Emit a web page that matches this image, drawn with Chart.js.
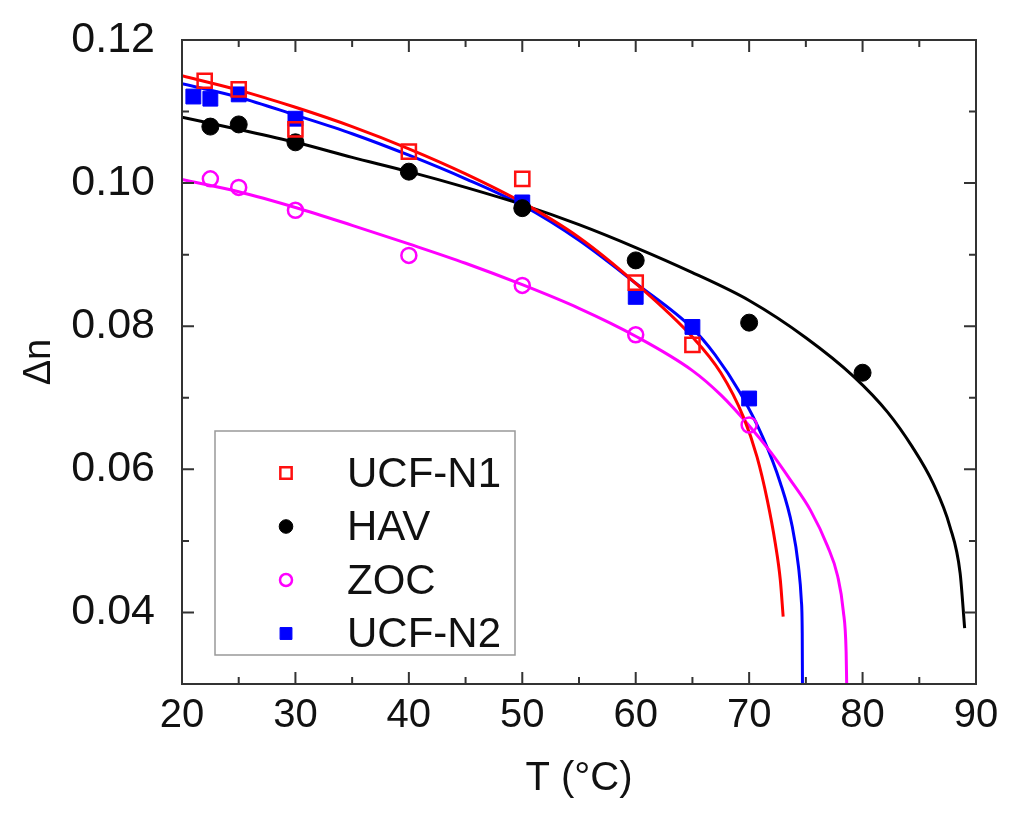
<!DOCTYPE html>
<html>
<head>
    <title>Birefringence vs temperature</title>
    <script src="https://cdn.jsdelivr.net/npm/chart.js"></script>
    <style>
        body { margin: 0; background: #fff; }
        #wrap { width: 1024px; height: 829px; }
    </style>
</head>
<body>
    <div id="wrap"><canvas id="dnChart" width="1024" height="829"></canvas></div>
    <script>
        // measured points
        const ucfN1T = [22, 25, 30, 40, 50, 60, 65];
        const ucfN1Dn = [0.1143, 0.1131, 0.1075, 0.1044, 0.1006, 0.0861, 0.0774];
        const havT = [22.5, 25, 30, 40, 50, 60, 70, 80];
        const havDn = [0.1079, 0.1082, 0.1057, 0.1016, 0.0965, 0.0892, 0.0805, 0.0735];
        const zocT = [22.5, 25, 30, 40, 50, 60, 70];
        const zocDn = [0.1006, 0.0994, 0.0962, 0.0899, 0.0857, 0.0788, 0.0662];
        const ucfN2T = [21, 22.5, 25, 30, 50, 60, 65, 70];
        const ucfN2Dn = [0.1121, 0.1118, 0.1124, 0.1090, 0.0973, 0.0841, 0.0799, 0.0699];

        // fitted curves
        const fitN1T = [20, 25, 30, 35, 40, 45, 50, 55, 60, 65, 67.5, 69.5, 70.7, 71.6, 72.3, 72.75, 73.0];
        const fitN1Dn = [0.1150, 0.1130, 0.1106, 0.1079, 0.1048, 0.1013, 0.0973, 0.0924, 0.0860, 0.0785, 0.0735, 0.0673, 0.0617, 0.0557, 0.0497, 0.0445, 0.0394];
        const fitHavT = [20, 25, 30, 35, 40, 45, 50, 55, 60, 65, 70, 75, 79.2, 82.2, 84.4, 86.2, 87.7, 88.6, 89.0];
        const fitHavDn = [0.1092, 0.1075, 0.1057, 0.1036, 0.1016, 0.0994, 0.0970, 0.0942, 0.0910, 0.0875, 0.0836, 0.0784, 0.0730, 0.0680, 0.0631, 0.0581, 0.0520, 0.0455, 0.0378];
        const fitZocT = [20, 25, 30, 35, 40, 45, 50, 55, 60, 65, 67.5, 70, 71.9, 73.6, 75.4, 76.9, 77.8, 78.3, 78.55, 78.6];
        const fitZocDn = [0.1005, 0.0988, 0.0966, 0.0941, 0.0915, 0.0888, 0.0858, 0.0825, 0.0786, 0.0738, 0.0704, 0.0661, 0.0624, 0.0586, 0.0543, 0.0493, 0.0451, 0.0402, 0.0345, 0.0300];
        const fitN2T = [20, 25, 30, 35, 40, 45, 50, 55, 60, 65, 67, 69.2, 71.2, 72.75, 73.8, 74.35, 74.6, 74.68, 74.7];
        const fitN2Dn = [0.1139, 0.1120, 0.1095, 0.1069, 0.1039, 0.1006, 0.0969, 0.0920, 0.0860, 0.0797, 0.0760, 0.0707, 0.0645, 0.0581, 0.0520, 0.0464, 0.0417, 0.0371, 0.0300];

        const xTicks = [20, 30, 40, 50, 60, 70, 80, 90];
        const xMinor = [25, 35, 45, 55, 65, 75, 85];
        const yTicks = [0.04, 0.06, 0.08, 0.10, 0.12];
        const yMinor = [0.05, 0.07, 0.09, 0.11];

        const pts = (xs, ys) => xs.map((x, i) => ({ x: x, y: ys[i] }));
        const font = '"Liberation Sans", Arial, sans-serif';

        function markers(label, xs, ys, style, color, filled, r) {
            return {
                label: label, data: pts(xs, ys), showLine: false, order: 0,
                pointStyle: style, pointRadius: r, pointHoverRadius: r,
                pointBackgroundColor: filled ? color : 'rgba(0,0,0,0)',
                pointBorderColor: color, pointBorderWidth: filled ? 1 : 2.5
            };
        }
        function curve(xs, ys, color) {
            return {
                label: '', data: pts(xs, ys), showLine: true, order: 1,
                borderColor: color, borderWidth: 3, pointRadius: 0,
                cubicInterpolationMode: 'monotone', fill: false
            };
        }

        // box with inward ticks on all four sides, plus the legend
        const framePlugin = {
            id: 'frame',
            afterDraw(chart) {
                const ctx = chart.ctx, a = chart.chartArea;
                const xs = chart.scales.x, ys = chart.scales.y;
                ctx.save();
                ctx.strokeStyle = '#333';
                ctx.lineWidth = 2;
                ctx.strokeRect(a.left, a.top, a.right - a.left, a.bottom - a.top);
                ctx.beginPath();
                const tx = (v, len) => {
                    const p = xs.getPixelForValue(v);
                    ctx.moveTo(p, a.bottom); ctx.lineTo(p, a.bottom - len);
                    ctx.moveTo(p, a.top); ctx.lineTo(p, a.top + len);
                };
                const ty = (v, len) => {
                    const p = ys.getPixelForValue(v);
                    ctx.moveTo(a.left, p); ctx.lineTo(a.left + len, p);
                    ctx.moveTo(a.right, p); ctx.lineTo(a.right - len, p);
                };
                xTicks.forEach(v => tx(v, 12));
                xMinor.forEach(v => tx(v, 7));
                yTicks.forEach(v => ty(v, 12));
                yMinor.forEach(v => ty(v, 7));
                ctx.stroke();

                // legend
                ctx.strokeStyle = '#999';
                ctx.lineWidth = 1.5;
                ctx.fillStyle = '#fff';
                ctx.fillRect(215, 431, 300, 224);
                ctx.strokeRect(215, 431, 300, 224);
                ctx.font = '42px ' + font;
                ctx.textBaseline = 'middle';
                let y = 473;
                chart.data.datasets.filter(d => d.label).forEach(d => {
                    ctx.lineWidth = d.pointBorderWidth;
                    ctx.strokeStyle = d.pointBorderColor;
                    ctx.fillStyle = d.pointBackgroundColor;
                    Chart.helpers.drawPoint(ctx, { pointStyle: d.pointStyle, radius: d.pointRadius * 0.8, borderWidth: d.pointBorderWidth }, 286, y);
                    ctx.fillStyle = '#111';
                    ctx.fillText(d.label, 347, y + 2);
                    y += 53.5;
                });
                ctx.restore();
            }
        };

        new Chart(document.getElementById('dnChart'), {
            type: 'scatter',
            data: {
                datasets: [
                    markers('UCF-N1', ucfN1T, ucfN1Dn, 'rect', '#ff1010', false, 10),
                    markers('HAV', havT, havDn, 'circle', '#000', true, 8.5),
                    markers('ZOC', zocT, zocDn, 'circle', '#ff00ff', false, 7.5),
                    markers('UCF-N2', ucfN2T, ucfN2Dn, 'rect', '#0000ff', true, 10.5),
                    curve(fitN1T, fitN1Dn, '#ff0000'),
                    curve(fitHavT, fitHavDn, '#000'),
                    curve(fitZocT, fitZocDn, '#ff00ff'),
                    curve(fitN2T, fitN2Dn, '#0000ff')
                ]
            },
            options: {
                responsive: false,
                animation: false,
                devicePixelRatio: 1,
                layout: { padding: { top: 40, right: 48, left: 0, bottom: 0 } },
                plugins: { legend: { display: false }, tooltip: { enabled: false } },
                scales: {
                    x: {
                        type: 'linear', min: 20, max: 90,
                        afterBuildTicks: s => { s.ticks = xTicks.map(v => ({ value: v })); },
                        afterFit: s => { s.height = 145; s.paddingLeft = 0; s.paddingRight = 0; },
                        grid: { display: false },
                        border: { display: false },
                        ticks: { color: '#111', padding: 0, font: { family: font, size: 40 } },
                        title: { display: true, text: 'T (°C)', color: '#111', padding: { top: 0, bottom: 26 }, font: { family: font, size: 40 } }
                    },
                    y: {
                        type: 'linear', min: 0.03, max: 0.12,
                        afterBuildTicks: s => { s.ticks = yTicks.map(v => ({ value: v })); },
                        afterFit: s => { s.width = 182; s.paddingTop = 0; s.paddingBottom = 0; },
                        grid: { display: false },
                        border: { display: false },
                        ticks: { color: '#111', padding: 19, font: { family: font, size: 43 }, callback: v => v.toFixed(2) },
                        title: { display: true, text: 'Δn', color: '#111', padding: { top: 17, bottom: 0 }, font: { family: font, size: 38 } }
                    }
                }
            },
            plugins: [framePlugin]
        });
    </script>
</body>
</html>
